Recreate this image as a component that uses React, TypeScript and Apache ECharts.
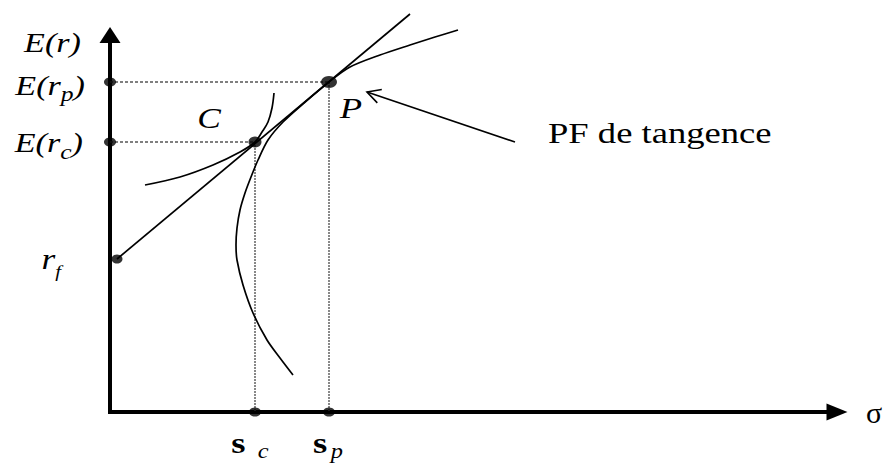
import { useEffect, useRef } from "react";
import * as echarts from "echarts";

// Efficient frontier (risk σ, expected return)
const frontierSigma = [183, 170, 157, 143, 133, 127, 126, 127, 130, 135, 141, 148, 158, 173, 194, 219, 240, 270, 300, 325, 348];
const frontierReturn = [37, 54, 72, 99, 127, 152, 167, 184, 202, 219, 235, 252, 272, 290, 309, 330, 345, 357, 367, 375, 382];

// Indifference curve of the investor, touching the line at C
const indiffSigma = [35, 70, 103, 130, 145, 152, 158, 162, 164];
const indiffReturn = [227, 235, 247, 260, 270, 280, 290, 304, 319];

// Key points
const riskFree = [7, 153];
const portfolioP = [219, 330];
const portfolioC = [145, 270];
const lineEnd = [300, 398];

// Axis ranges
const sigmaMax = 727;
const returnMax = 377;

// Annotation arrow pointing at P
const arrowTip = [257, 320];
const arrowTail = [405, 270];

const SERIF = "'Liberation Serif', 'Times New Roman', serif";
const STRETCH = 1.22;

const pairs = (xs: number[], ys: number[]) => xs.map((x, i) => [x, ys[i]]);

export default function App() {
  const ref = useRef<HTMLDivElement>(null);

  useEffect(() => {
    const chart = echarts.init(ref.current!, null, { renderer: "svg" });

    const hGuide = {
      type: "line",
      silent: true,
      symbol: "none",
      clip: false,
      z: 1,
      lineStyle: { color: "#555", width: 1.5, type: [3, 2] },
    };
    const vGuide = {
      ...hGuide,
      lineStyle: { color: "#888", width: 2, type: [2, 1] },
    };
    const curve = {
      type: "line",
      silent: true,
      symbol: "none",
      clip: false,
      z: 3,
      lineStyle: { color: "#000", width: 1.7 },
    };
    const dot = (pt: number[], size: number[]) => ({
      type: "scatter",
      silent: true,
      clip: false,
      z: 5,
      symbol: "circle",
      symbolSize: size,
      itemStyle: { color: "#000" },
      data: [pt],
    });

    const axisCommon = {
      type: "value",
      axisTick: { show: false },
      axisLabel: { show: false },
      splitLine: { show: false },
    };

    chart.setOption({
      animation: false,
      grid: { left: 110, top: 35, right: 887 - 110 - sigmaMax, bottom: 51 },
      xAxis: {
        ...axisCommon,
        min: 0,
        max: sigmaMax,
        name: "σ",
        nameLocation: "end",
        nameGap: 29,
        nameTextStyle: { fontFamily: SERIF, fontSize: 30, color: "#000", verticalAlign: "middle" },
        axisLine: {
          show: true,
          symbol: ["none", "triangle"],
          symbolSize: [17, 21],
          lineStyle: { color: "#000", width: 4, cap: "square" },
        },
      },
      yAxis: {
        ...axisCommon,
        min: 0,
        max: returnMax,
        axisLine: {
          show: true,
          symbol: ["none", "triangle"],
          symbolSize: [21, 16],
          lineStyle: { color: "#000", width: 4, cap: "square" },
        },
      },
      series: [
        // dotted guides to the axes
        { ...hGuide, data: [[0, portfolioP[1]], portfolioP] },
        { ...hGuide, data: [[0, portfolioC[1]], portfolioC] },
        { ...vGuide, data: [portfolioP, [portfolioP[0], 0]] },
        { ...vGuide, data: [portfolioC, [portfolioC[0], 0]] },
        // capital market line
        { ...curve, data: [riskFree, lineEnd] },
        // efficient frontier
        { ...curve, smooth: 0.3, data: pairs(frontierSigma, frontierReturn) },
        // indifference curve
        { ...curve, smooth: 0.35, data: pairs(indiffSigma, indiffReturn) },
        dot(riskFree, [11, 9]),
        dot([0, portfolioP[1]], [12, 9]),
        dot([0, portfolioC[1]], [12, 9]),
        dot([portfolioP[0], 0], [12, 9]),
        dot([portfolioC[0], 0], [12, 9]),
        dot(portfolioC, [13, 11]),
        dot(portfolioP, [16, 12]),
      ],
    });

    const px = (p: number[]) => chart.convertToPixel({ gridIndex: 0 }, p) as number[];

    // Rich-text label with an optional subscript: the main run sits at the top of the
    // line box, the subscript at its bottom; the line height sets how far it drops.
    type Rich = { rich: any; shift: number };
    const rich = (
      size: number,
      sub: number,
      drop: number,
      italic: boolean,
      opts: { bold?: boolean; subGap?: number; subItalic?: boolean } = {},
    ): Rich => {
      const lh = drop > 0 ? drop + 0.84 * size + 0.16 * sub : size;
      return {
        shift: lh / 2 - size / 2,
        rich: {
          m: {
            fontFamily: SERIF,
            fontSize: size,
            fontStyle: italic ? "italic" : "normal",
            fontWeight: opts.bold ? "bold" : "normal",
            lineHeight: lh,
            verticalAlign: "top",
            fill: "#000",
          },
          s: {
            fontFamily: SERIF,
            fontSize: sub,
            fontStyle: opts.subItalic === false ? "normal" : "italic",
            lineHeight: sub,
            verticalAlign: "bottom",
            padding: [0, 0, 0, opts.subGap ?? 0],
            fill: "#000",
          },
        },
      };
    };

    const label = (anchor: number[], dx: number, dy: number, text: string, align: string, r: Rich) => ({
      type: "text",
      x: anchor[0] + dx,
      y: anchor[1] + dy + r.shift,
      scaleX: STRETCH,
      silent: true,
      z: 10,
      style: {
        text,
        rich: r.rich,
        fill: "#000",
        align,
        textAlign: align,
        verticalAlign: "middle",
        textVerticalAlign: "middle",
      },
    });

    const origin = px([0, 0]);
    const top = px([0, returnMax]);
    const pP = px(portfolioP);
    const pC = px(portfolioC);
    const pRf = px(riskFree);
    const sP = px([portfolioP[0], 0]);
    const sC = px([portfolioC[0], 0]);
    const tip = px(arrowTip);
    const tail = px(arrowTail);

    // open arrow head
    const dxA = tail[0] - tip[0];
    const dyA = tail[1] - tip[1];
    const len = Math.hypot(dxA, dyA);
    const ux = dxA / len;
    const uy = dyA / len;
    const arm = (a: number) => [
      tip[0] + 15 * (ux * Math.cos(a) - uy * Math.sin(a)),
      tip[1] + 15 * (ux * Math.sin(a) + uy * Math.cos(a)),
    ];
    const spread = (28 * Math.PI) / 180;

    chart.setOption({
      graphic: [
        label([origin[0], top[1]], -29, 8, "{m|E(r)}", "right", rich(28, 18, 0, true)),
        label([origin[0], pP[1]], -25, 4, "{m|E(r}{s|p}{m|)}", "right", rich(28, 21, 5, true)),
        label([origin[0], pC[1]], -27, 1, "{m|E(r}{s|c}{m|)}", "right", rich(28, 21, 6, true)),
        label([origin[0], pRf[1]], -49, 0, "{m|r}{s|f}", "right", rich(29, 17, 8, true)),
        label(pC, -46, -24, "{m|C}", "center", rich(29, 18, 0, true)),
        label(pP, 22, 26, "{m|P}", "center", rich(30, 18, 0, true)),
        label(sC, -5, 31, "{m|s}{s|c}", "center", rich(30, 20, 5, false, { bold: true, subGap: 10 })),
        label(sP, -1, 31, "{m|s}{s|p}", "center", rich(30, 20, 5, false, { bold: true, subGap: 3 })),
        label(tail, 33, -9, "{m|PF de tangence}", "left", rich(30, 18, 0, false)),
        {
          type: "line",
          silent: true,
          z: 6,
          shape: { x1: tail[0], y1: tail[1], x2: tip[0], y2: tip[1] },
          style: { stroke: "#000", lineWidth: 1.6 },
        },
        {
          type: "polyline",
          silent: true,
          z: 6,
          shape: { points: [arm(spread), tip, arm(-spread)] },
          style: { stroke: "#000", lineWidth: 1.6, fill: null },
        },
      ],
    });

    return () => chart.dispose();
  }, []);

  return (
    <div
      ref={ref}
      style={{ position: "fixed", left: 0, top: 0, width: 887, height: 463, background: "#fff" }}
    />
  );
}
